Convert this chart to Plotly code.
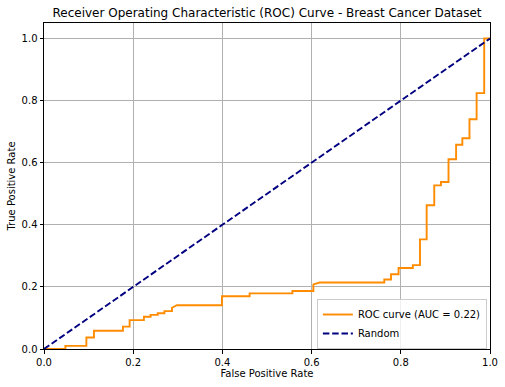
import plotly.graph_objects as go

fpr = [0, 0.048, 0.048, 0.095, 0.095, 0.112, 0.112, 0.177, 0.177, 0.192, 0.192, 0.224, 0.224,
       0.239, 0.239, 0.255, 0.255, 0.27, 0.27, 0.287, 0.287, 0.298, 0.399, 0.399, 0.461, 0.461,
       0.557, 0.557, 0.604, 0.604, 0.618, 0.763, 0.763, 0.778, 0.778, 0.795, 0.795, 0.827, 0.827,
       0.843, 0.843, 0.858, 0.858, 0.875, 0.875, 0.890, 0.890, 0.907, 0.907, 0.924, 0.924, 0.938,
       0.938, 0.954, 0.954, 0.970, 0.970, 0.987, 0.987, 1.0]
tpr = [0, 0, 0.01, 0.01, 0.037, 0.037, 0.059, 0.059, 0.072, 0.072, 0.093, 0.093, 0.104,
       0.104, 0.11, 0.11, 0.115, 0.115, 0.122, 0.122, 0.133, 0.141, 0.141, 0.170, 0.170, 0.179,
       0.179, 0.187, 0.187, 0.208, 0.214, 0.214, 0.224, 0.224, 0.241, 0.241, 0.261, 0.261, 0.270,
       0.270, 0.353, 0.353, 0.463, 0.463, 0.527, 0.527, 0.538, 0.538, 0.611, 0.611, 0.658, 0.658,
       0.679, 0.679, 0.740, 0.740, 0.824, 0.824, 1.0, 1.0]
auc_label = "ROC curve (AUC = 0.22)"
random_x = [0, 1]
random_y = [0, 1]
ticks = [0.0, 0.2, 0.4, 0.6, 0.8, 1.0]

fig = go.Figure()
fig.add_trace(go.Scatter(x=fpr, y=tpr, mode="lines", name=auc_label,
                         line=dict(color="#ff8c00", width=1.9)))
fig.add_trace(go.Scatter(x=random_x, y=random_y, mode="lines", name="Random",
                         line=dict(color="#000080", width=1.9, dash="6.5px,2.8px")))

axis_common = dict(showgrid=True, gridcolor="#b0b0b0", gridwidth=0.8, zeroline=False,
                   showline=True, linecolor="black", linewidth=1, mirror=True,
                   ticks="outside", ticklen=3.5, tickcolor="black", automargin=False,
                   tickfont=dict(size=10, color="black"), tickvals=ticks, tickformat=".1f")

fig.update_layout(
    width=505, height=387,
    margin=dict(l=43.5, r=15, t=22.5, b=38),
    paper_bgcolor="white", plot_bgcolor="white",
    font=dict(family="DejaVu Sans", color="black"),
    title=dict(text="Receiver Operating Characteristic (ROC) Curve - Breast Cancer Dataset",
               xref="paper", x=0.5, xanchor="center", y=0.966, yanchor="middle",
               font=dict(size=12)),
    xaxis=dict(range=[0, 1], title=dict(text="False Positive Rate", font=dict(size=10), standoff=2),
               **axis_common),
    yaxis=dict(range=[0, 1.05], title=dict(text="True Positive Rate", font=dict(size=10), standoff=4),
               **axis_common),
    legend=dict(x=0.993, xanchor="right", y=0.0, yanchor="bottom",
                bgcolor="rgba(255,255,255,0.8)", bordercolor="#cccccc", borderwidth=1,
                font=dict(size=10), tracegroupgap=0, itemwidth=30),
    showlegend=True,
)

fig.write_html("out.html", config={"displayModeBar": False},
               post_script="document.body.style.margin='0';")
